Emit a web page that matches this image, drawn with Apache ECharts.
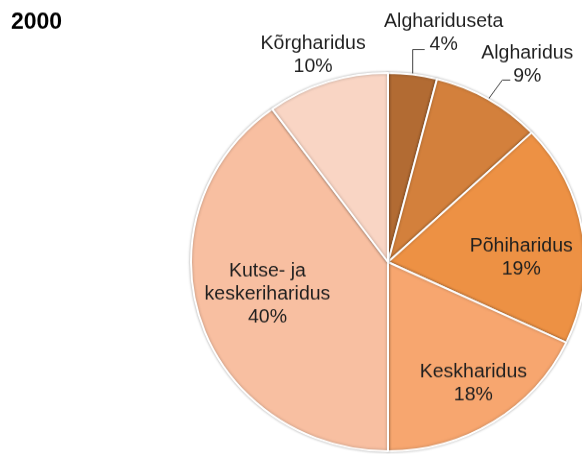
<!DOCTYPE html>
<html lang="et">
<head>
<meta charset="UTF-8">
<title>2000</title>
<script src="https://cdn.jsdelivr.net/npm/echarts@6/dist/echarts.min.js"></script>
<style>
    html, body { margin: 0; padding: 0; background: #fff; overflow: hidden; }
    /* the original pie is a little squashed vertically */
    #chart { width: 582px; height: 473px; transform: scaleY(0.96); transform-origin: 0 0; }
</style>
</head>
<body>
<div id="chart"></div>
<script>
// data, clockwise from 12 o'clock
var categories = ['Alghariduseta', 'Algharidus', 'Põhiharidus', 'Keskharidus', 'Kutse- ja\nkeskeriharidus', 'Kõrgharidus'];
var shares = [4, 9, 19, 18, 40, 10];
var sliceColors = ['#b26b33', '#d3803c', '#ed9144', '#f7a66f', '#f8bfa1', '#f9d5c4'];
var title = '2000';

// label placement per slice: inside ones are shifted from the default spot,
// outside ones hang off the leader line start
var labelTweak = [
    { line: [[0, -26], [12, -26]], text: [31, -43] },
    { line: [[14, -20], [22, -20]], text: [39, -36] },
    { inside: [33, 12] },
    { inside: [31, 41] },
    { inside: [-24, 2] },
    { line: [], text: [-14, -28] }
];

var chart = echarts.init(document.getElementById('chart'));

var data = categories.map(function (name, i) {
    var item = { name: name, value: shares[i], itemStyle: { color: sliceColors[i] } };
    if (labelTweak[i].inside) {
        item.label = { position: 'inside' };
    } else {
        item.label = { position: 'outside' };
        item.labelLine = { show: true, length: 20, length2: 8 };
        if (!labelTweak[i].line.length) item.labelLine.lineStyle = { opacity: 0 };
    }
    return item;
});

chart.setOption({
    animation: false,
    title: {
        text: title,
        left: 6,
        top: 7,
        textStyle: { fontFamily: 'Liberation Sans, Arial, sans-serif', fontSize: 23, fontWeight: 'bold', color: '#000' }
    },
    series: [{
        type: 'pie',
        center: [388, 273],
        radius: 197,
        startAngle: 90,
        clockwise: true,
        avoidLabelOverlap: false,
        itemStyle: {
            borderColor: '#fff',
            borderWidth: 2,
            shadowColor: 'rgba(0,0,0,0.3)',
            shadowBlur: 3
        },
        label: {
            formatter: '{b}\n{c}%',
            fontFamily: 'Liberation Sans, Arial, sans-serif',
            fontSize: 19.5,
            lineHeight: 24,
            color: '#1f1f1f',
            align: 'center'
        },
        labelLine: {
            lineStyle: { color: '#404040', width: 1 }
        },
        emphasis: { disabled: true },
        labelLayout: function (p) {
            var t = labelTweak[p.dataIndex];
            if (t.inside) {
                var r = p.labelRect;
                return {
                    x: r.x + r.width / 2 + t.inside[0],
                    y: r.y + r.height / 2 + t.inside[1],
                    align: 'center',
                    verticalAlign: 'middle'
                };
            }
            var p0 = p.labelLinePoints[0];
            var pts = [p0.slice()];
            t.line.forEach(function (d) { pts.push([p0[0] + d[0], p0[1] + d[1]]); });
            if (pts.length < 2) pts.push(p0.slice());
            return {
                x: p0[0] + t.text[0],
                y: p0[1] + t.text[1],
                align: 'center',
                verticalAlign: 'middle',
                labelLinePoints: pts
            };
        },
        data: data
    }]
});
</script>
</body>
</html>
